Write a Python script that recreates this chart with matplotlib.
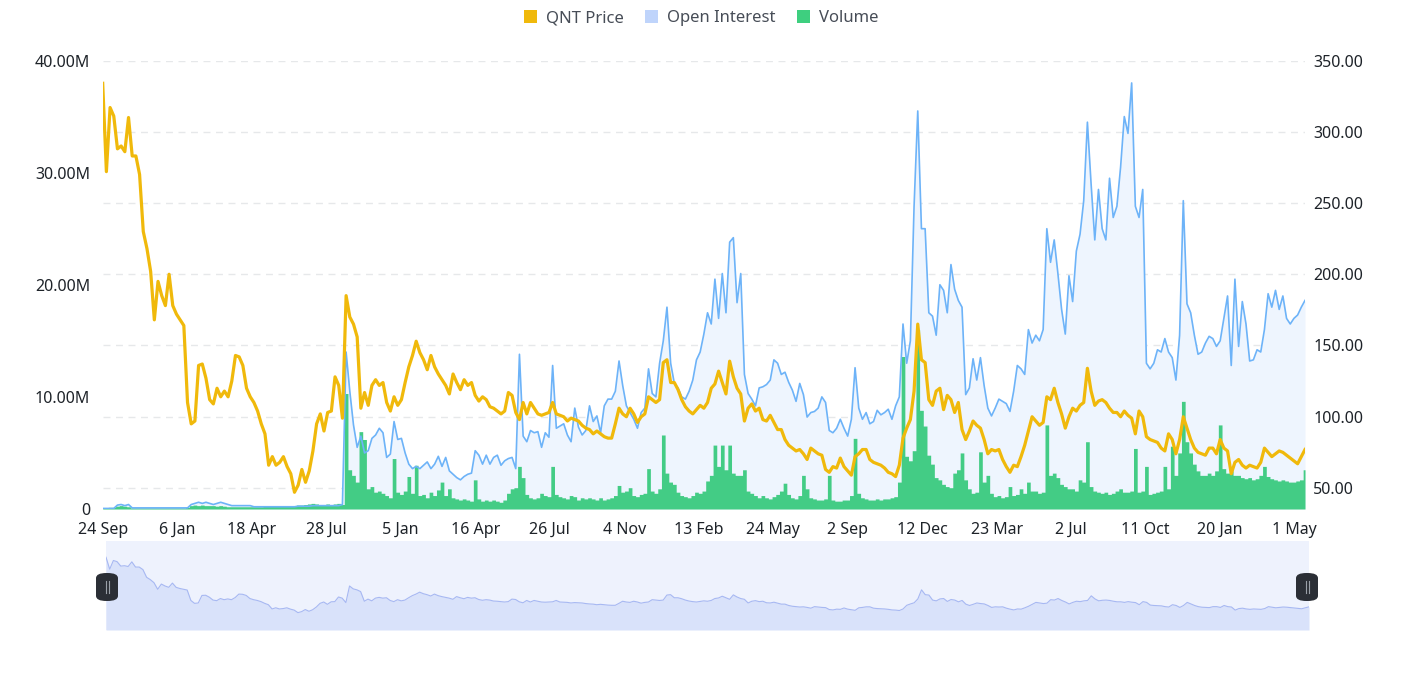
import numpy as np
import matplotlib.pyplot as plt
from matplotlib.patches import Patch, FancyBboxPatch
from matplotlib.ticker import FuncFormatter, FixedLocator

plt.rcParams['font.family'] = ['Noto Sans', 'DejaVu Sans']

# --------------------------------------------------------------------------
# Data: one value every STEP days (category axis, daily points)
# --------------------------------------------------------------------------
STEP = 5

price = [
    334, 272, 317, 311, 288, 290, 286, 310, 283, 283,
    270, 230, 218, 202, 168, 195, 185, 178, 200, 178,
    172, 168, 164, 110, 95, 97, 136, 137, 127, 112,
    109, 120, 114, 118, 114, 125, 143, 142, 136, 120,
    114, 110, 104, 95, 88, 66, 72, 66, 68, 72,
    65, 60, 47, 52, 63, 54, 62, 76, 95, 102,
    90, 103, 104, 128, 122, 99, 185, 170, 165, 156,
    106, 117, 108, 122, 126, 122, 124, 110, 104, 114,
    108, 112, 124, 135, 143, 153, 145, 140, 133, 143,
    135, 130, 126, 122, 116, 130, 124, 119, 126, 122,
    124, 115, 111, 114, 112, 107, 106, 104, 102, 104,
    117, 115, 103, 98, 110, 102, 110, 106, 102, 101,
    102, 103, 110, 102, 101, 100, 97, 99, 98, 97,
    94, 92, 91, 88, 90, 88, 86, 85, 85, 95,
    106, 102, 100, 106, 102, 96, 100, 102, 114, 112,
    110, 112, 138, 140, 124, 124, 119, 112, 107, 104,
    102, 105, 108, 106, 110, 120, 123, 132, 124, 116,
    139, 128, 120, 116, 97, 106, 109, 104, 106, 98,
    97, 101, 96, 91, 91, 84, 80, 78, 76, 77,
    74, 70, 78, 76, 74, 73, 63, 61, 65, 64,
    71, 65, 62, 59, 72, 74, 77, 77, 70, 68,
    67, 66, 64, 61, 60, 58, 66, 85, 92, 98,
    118, 165, 140, 138, 112, 108, 118, 120, 105, 115,
    112, 103, 110, 91, 84, 90, 97, 94, 92, 84,
    74, 77, 76, 77, 70, 65, 61, 66, 65, 72,
    80, 90, 100, 97, 94, 96, 114, 112, 120, 110,
    102, 92, 100, 106, 104, 108, 110, 134, 118, 108,
    111, 112, 110, 106, 103, 103, 100, 104, 101, 99,
    88, 104, 100, 86, 84, 83, 82, 78, 76, 88,
    84, 74, 84, 100, 92, 84, 78, 75, 74, 73,
    78, 78, 74, 84, 78, 76, 60, 68, 70, 66,
    64, 66, 65, 64, 68, 78, 75, 72, 74, 76,
    75, 73, 71, 69, 67, 72, 77,
]

open_interest = [  # millions
    0.05, 0.05, 0.05, 0.05, 0.35, 0.4, 0.3, 0.4, 0.1, 0.1,
    0.1, 0.1, 0.1, 0.1, 0.1, 0.1, 0.1, 0.1, 0.1, 0.1,
    0.1, 0.1, 0.1, 0.1, 0.4, 0.5, 0.6, 0.5, 0.6, 0.5,
    0.4, 0.5, 0.6, 0.5, 0.4, 0.3, 0.3, 0.3, 0.3, 0.3,
    0.3, 0.2, 0.2, 0.2, 0.2, 0.2, 0.2, 0.2, 0.2, 0.2,
    0.2, 0.2, 0.2, 0.25, 0.25, 0.25, 0.25, 0.3, 0.3, 0.3,
    0.3, 0.3, 0.3, 0.3, 0.3, 0.4, 14.0, 10.5, 7.5, 5.5,
    6.5, 5.0, 5.2, 6.3, 6.6, 7.2, 6.8, 4.6, 4.9, 7.8,
    6.2, 6.3, 5.0, 4.0, 3.6, 3.8, 3.6, 3.9, 4.2, 3.6,
    4.0, 4.7, 3.8, 4.6, 3.4, 3.1, 2.8, 2.6, 2.9, 3.1,
    3.2, 5.2, 4.8, 4.0, 4.8, 4.0, 4.6, 4.8, 3.9, 4.3,
    4.5, 4.6, 3.6, 13.8, 6.5, 6.0, 7.0, 6.8, 6.9, 5.5,
    6.8, 6.4, 12.8, 7.2, 7.4, 7.6, 6.6, 6.0, 9.0, 7.3,
    6.6, 7.0, 9.2, 7.8, 8.3, 6.8, 9.2, 9.8, 9.8, 10.5,
    13.2, 11.0, 9.2, 8.6, 8.0, 7.2, 8.6, 9.0, 12.5, 10.3,
    10.0, 13.0, 15.0, 18.0, 13.0, 11.2, 10.8, 10.0, 9.8, 10.5,
    11.5, 13.3, 14.0, 15.6, 17.5, 16.5, 20.5, 17.0, 21.0, 17.5,
    23.8, 24.2, 18.4, 21.0, 12.0, 10.3, 9.8, 9.2, 10.8, 10.9,
    11.1, 11.5, 13.3, 13.0, 12.0, 12.2, 11.3, 10.6, 9.6, 11.2,
    10.2, 8.2, 8.6, 8.7, 9.0, 10.0, 9.5, 7.0, 6.8, 7.2,
    8.0, 7.2, 6.5, 8.0, 12.6, 9.0, 8.0, 8.6, 7.6, 7.8,
    8.8, 8.4, 8.6, 8.9, 8.0, 9.2, 10.0, 16.5, 13.0, 15.0,
    27.0, 35.5, 25.0, 25.0, 17.5, 17.2, 15.5, 20.0, 19.5, 17.5,
    21.8, 19.6, 18.6, 18.0, 10.2, 10.8, 13.4, 11.5, 13.5, 11.0,
    9.0, 8.3, 9.0, 9.8, 9.6, 9.4, 8.7, 10.5, 12.8, 12.5,
    12.0, 16.0, 14.8, 15.5, 15.0, 16.0, 25.0, 22.0, 24.0, 21.0,
    17.8, 15.6, 20.8, 18.5, 23.0, 24.5, 27.5, 34.5, 29.0, 24.0,
    28.5, 25.0, 24.0, 29.5, 26.0, 27.0, 30.5, 35.0, 33.5, 38.0,
    27.0, 26.0, 28.5, 13.0, 12.5, 13.0, 14.2, 14.0, 15.2, 14.0,
    13.5, 11.5, 15.5, 27.5, 18.3, 17.5, 15.5, 13.8, 14.0, 14.8,
    15.4, 15.2, 14.5, 15.0, 17.0, 19.0, 12.8, 20.5, 14.5, 18.5,
    16.5, 13.2, 13.3, 14.2, 14.0, 16.0, 19.2, 18.0, 19.5, 17.8,
    19.0, 17.0, 16.5, 17.0, 17.3, 18.0, 18.6,
]

volume = [  # millions
    0.1, 0.1, 0.15, 0.15, 0.25, 0.3, 0.25, 0.2, 0.1, 0.1,
    0.1, 0.1, 0.1, 0.1, 0.1, 0.1, 0.1, 0.1, 0.1, 0.1,
    0.1, 0.1, 0.1, 0.15, 0.3, 0.35, 0.3, 0.35, 0.3, 0.3,
    0.3, 0.25, 0.3, 0.25, 0.2, 0.2, 0.2, 0.2, 0.2, 0.2,
    0.2, 0.2, 0.2, 0.2, 0.25, 0.25, 0.25, 0.3, 0.3, 0.3,
    0.3, 0.3, 0.3, 0.35, 0.35, 0.4, 0.45, 0.5, 0.45, 0.4,
    0.4, 0.45, 0.4, 0.45, 0.5, 0.4, 10.3, 3.5, 3.0, 2.4,
    6.9, 6.2, 1.8, 2.0, 1.5, 1.6, 1.4, 1.2, 1.0, 4.5,
    1.5, 1.3, 1.6, 2.9, 1.4, 3.9, 1.2, 1.3, 1.0, 1.5,
    1.2, 1.7, 2.4, 1.2, 1.8, 1.0, 0.9, 0.8, 0.9, 0.8,
    0.7, 2.6, 0.9, 0.7, 0.8, 0.7, 0.8, 0.7, 0.6, 0.8,
    1.4, 1.8, 1.9, 3.8, 2.8, 1.3, 1.0, 0.9, 1.0, 1.4,
    1.2, 1.1, 3.8, 1.3, 1.1, 1.0, 0.9, 1.2, 1.1, 0.8,
    1.0, 0.9, 1.0, 0.9, 0.8, 1.0, 0.8, 0.9, 1.0, 1.2,
    2.1, 1.5, 1.6, 1.9, 1.2, 1.1, 1.3, 1.4, 3.6, 1.6,
    1.4, 1.8, 6.6, 3.2, 2.4, 2.2, 1.5, 1.2, 1.1, 1.0,
    1.2, 1.5, 1.4, 1.6, 2.5, 3.0, 5.7, 3.8, 5.7, 3.5,
    5.7, 3.2, 3.0, 3.0, 3.5, 1.6, 1.4, 1.2, 1.0, 1.2,
    1.0, 0.9, 1.1, 1.3, 1.6, 2.3, 1.3, 1.0, 0.9, 1.2,
    3.0, 1.8, 1.0, 0.9, 0.8, 0.8, 0.9, 3.0, 0.8, 0.7,
    0.7, 0.8, 0.8, 1.2, 6.3, 1.4, 1.0, 0.9, 0.8, 0.8,
    0.9, 0.8, 0.9, 0.9, 1.0, 1.1, 2.4, 13.6, 4.7, 4.3,
    5.2, 16.0, 8.8, 7.4, 4.8, 4.0, 2.8, 2.6, 2.2, 2.0,
    1.9, 3.2, 3.5, 5.0, 2.6, 1.8, 1.4, 1.5, 5.1, 2.4,
    3.0, 1.4, 1.1, 1.2, 1.0, 1.1, 2.0, 1.2, 1.3, 1.8,
    1.4, 2.4, 1.6, 1.6, 1.4, 1.5, 7.5, 3.0, 3.2, 2.8,
    2.2, 2.0, 1.8, 1.8, 1.6, 2.6, 2.4, 6.0, 2.0, 1.6,
    1.5, 1.4, 1.5, 1.3, 1.4, 1.6, 1.8, 1.5, 1.5, 1.6,
    5.4, 1.5, 1.6, 3.8, 1.3, 1.4, 1.5, 1.6, 3.8, 1.8,
    5.6, 3.0, 5.0, 9.6, 6.0, 5.0, 4.0, 3.4, 3.0, 3.0,
    3.2, 3.0, 3.4, 7.5, 3.6, 3.2, 3.4, 3.0, 3.0, 2.8,
    2.7, 2.8, 2.6, 2.7, 3.0, 3.8, 2.9, 2.7, 2.6, 2.5,
    2.6, 2.5, 2.4, 2.4, 2.5, 2.6, 3.5,
]

tick_labels = ['24 Sep', '6 Jan', '18 Apr', '28 Jul', '5 Jan', '16 Apr',
               '26 Jul', '4 Nov', '13 Feb', '24 May', '2 Sep', '12 Dec',
               '23 Mar', '2 Jul', '11 Oct', '20 Jan', '1 May']
TICK_EVERY = 101   # one label every 101 points

# --------------------------------------------------------------------------
price = np.array(price, float)
oi = np.array(open_interest, float) * 1e6
vol = np.array(volume, float) * 1e6
x = np.arange(len(price)) * STEP
x_max = x[-1]

C_PRICE = '#F0B90B'
C_OI = '#6DB3F8'
C_OI_FILL = '#EEF5FE'
C_VOL = '#43CC85'
C_TXT = '#1E2329'

W, H = 1402, 675
fig = plt.figure(figsize=(W / 100, H / 100), dpi=100)
rect = [102.7 / W, 1 - 509 / H, (1305 - 102.7) / W, (509 - 60.5) / H]

ax_grid = fig.add_axes(rect)
ax = fig.add_axes(rect, sharex=ax_grid)
axp = fig.add_axes(rect, sharex=ax_grid)
ax_grid.set_zorder(0)
ax.set_zorder(1)
axp.set_zorder(2)
ax.patch.set_visible(False)
axp.patch.set_visible(False)

p_lo, p_hi = 35.26, 350
for a in (ax_grid, axp):
    a.set_ylim(p_lo, p_hi)
    a.yaxis.set_major_locator(FixedLocator([50, 100, 150, 200, 250, 300, 350]))

ax_grid.grid(axis='y', color='#E6E8EA', linestyle=(0, (5, 4)), linewidth=1.0)
ax_grid.tick_params(left=False, labelleft=False, bottom=False, labelbottom=False)

# left axis: open interest + volume
ax.fill_between(x, oi, 0, color=C_OI_FILL, lw=0, zorder=1)
ax.fill_between(x, vol, 0, step='mid', color=C_VOL, lw=0, zorder=2)
ax.plot(x, oi, color=C_OI, lw=1.2, zorder=3)
ax.set_ylim(0, 40e6)
ax.yaxis.set_major_locator(FixedLocator([0, 10e6, 20e6, 30e6, 40e6]))
ax.yaxis.set_major_formatter(FuncFormatter(
    lambda v, _: '0' if v == 0 else f'{v / 1e6:.2f}M'))
ax.tick_params(axis='y', length=0, pad=9, labelsize=11.5, colors=C_TXT)

# right axis: price
axp.plot(x, price, color=C_PRICE, lw=2.3, solid_joinstyle='round', zorder=4)
axp.yaxis.tick_right()
axp.yaxis.set_major_formatter(FuncFormatter(lambda v, _: f'{v:.2f}'))
axp.tick_params(axis='y', length=0, pad=6, labelsize=11.5, colors=C_TXT)
axp.tick_params(axis='x', bottom=False, labelbottom=False)

ax.set_xlim(0, x_max)
ax.set_xticks(np.arange(len(tick_labels)) * TICK_EVERY)
ax.set_xticklabels(tick_labels)
ax.tick_params(axis='x', length=0, pad=9, labelsize=11.5, colors=C_TXT)

for a in (ax_grid, ax, axp):
    for s in a.spines.values():
        s.set_visible(False)

# legend
handles = [Patch(facecolor=C_PRICE, label='QNT Price'),
           Patch(facecolor='#BFD4FB', label='Open Interest'),
           Patch(facecolor='#3ECF7F', label='Volume')]
fig.legend(handles=handles, loc='center', bbox_to_anchor=(0.5, 1 - 18 / H),
           ncol=3, frameon=False, fontsize=12, handlelength=0.8,
           handleheight=0.8, handletextpad=0.5, columnspacing=1.3,
           labelcolor='#474D57')

# navigator (zoom slider) below the chart
nav = fig.add_axes([106 / W, 1 - 630 / H, (1309 - 106) / W, (630 - 541) / H])
nav.set_facecolor('#EEF2FD')
nav.fill_between(x, price, -43, color='#D9E2FA', lw=0)
nav.plot(x, price, color='#A7B8F2', lw=0.8)
nav.set_xlim(0, x_max)
nav.set_ylim(-43, 418)
nav.set_xticks([])
nav.set_yticks([])
for s in nav.spines.values():
    s.set_visible(False)

for cx in (107, 1307):
    hw, hh, cy = 22, 28, 587
    fig.patches.append(FancyBboxPatch(
        ((cx - hw / 2) / W, 1 - (cy + hh / 2) / H), hw / W, hh / H,
        boxstyle='round,pad=0,rounding_size=0.0075', transform=fig.transFigure,
        facecolor='#2B2F36', edgecolor='none', zorder=5))
    for dx in (-1.5, 1.5):
        fig.add_artist(plt.Line2D([(cx + dx) / W] * 2,
                                  [1 - (cy + 6) / H, 1 - (cy - 6) / H],
                                  color='#9AA0A8', lw=0.8, zorder=6))

fig.savefig('out.png', dpi=100)
